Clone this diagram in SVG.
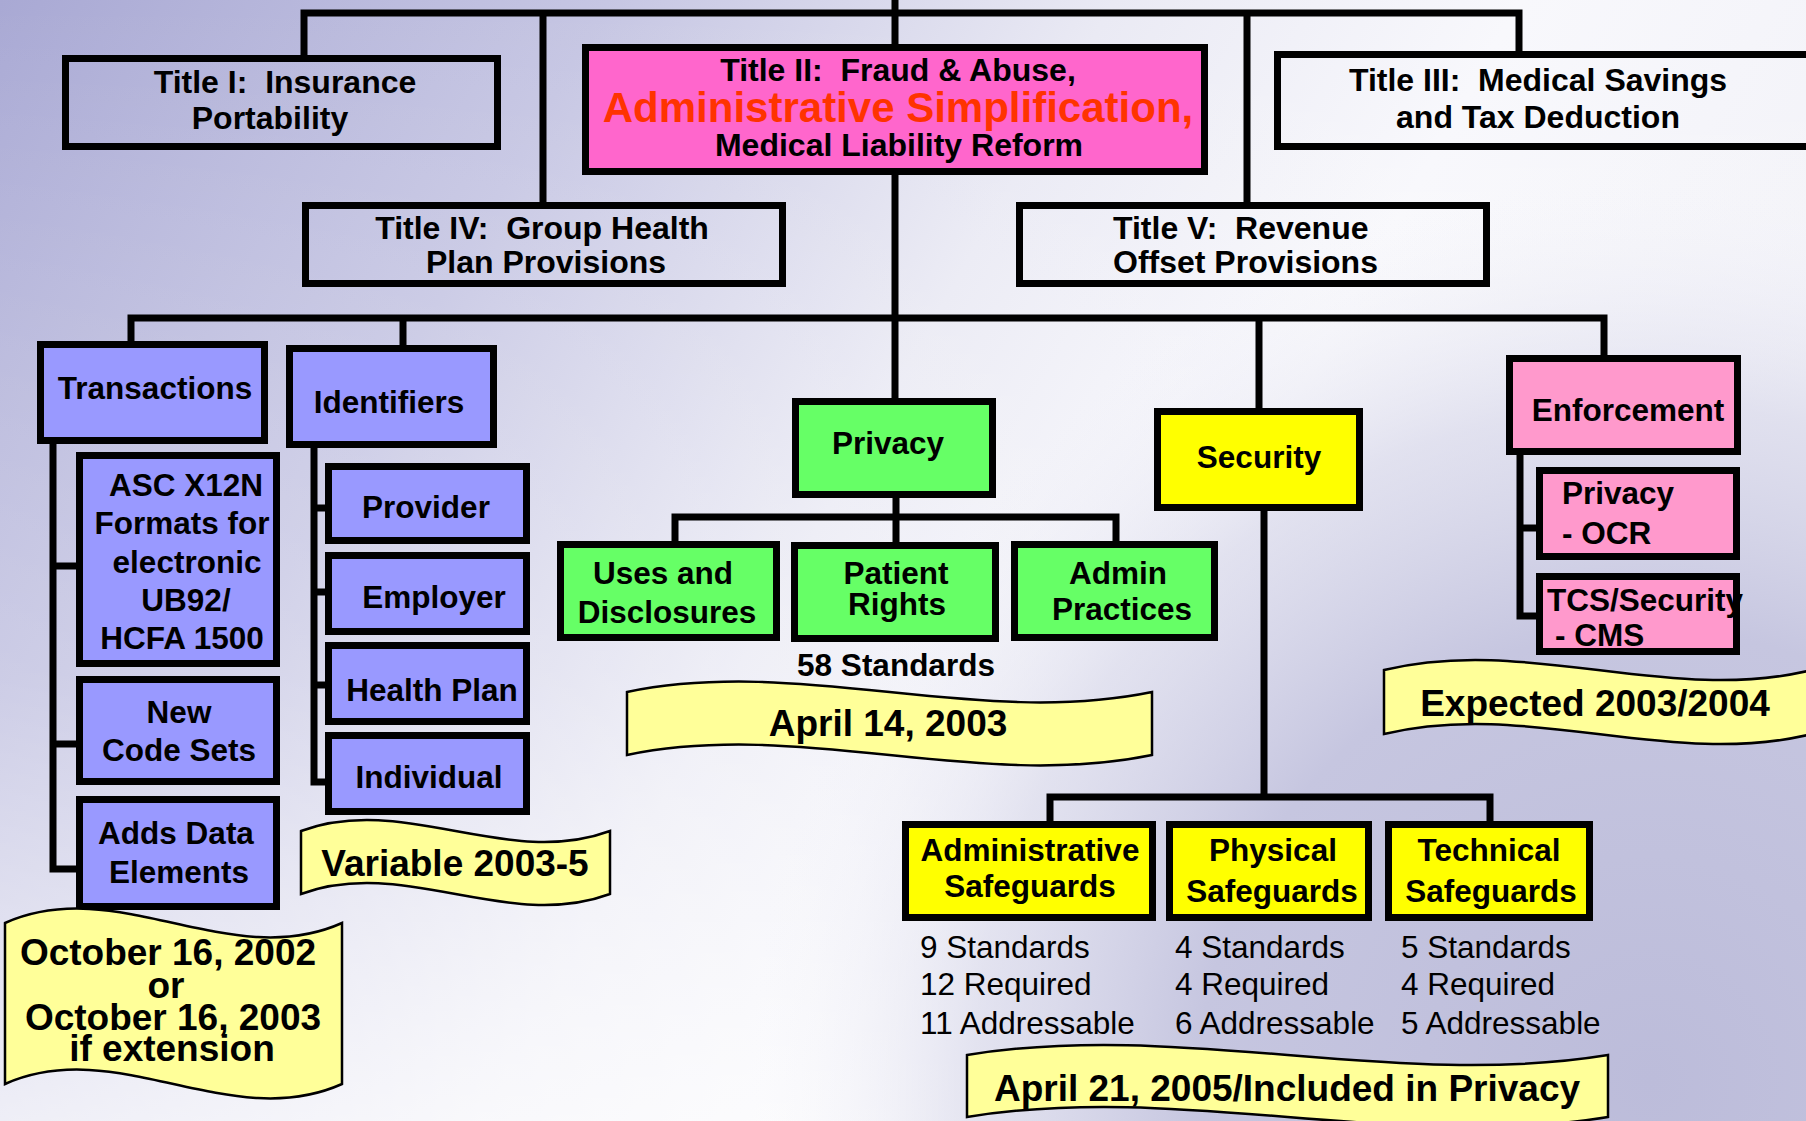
<svg xmlns="http://www.w3.org/2000/svg" width="1806" height="1121" viewBox="0 0 1806 1121">
<defs>
<style>
.box{stroke:#000;stroke-width:7}
.none{fill:none}
.blue{fill:#9999ff}
.green{fill:#66ff66}
.yellow{fill:#ffff00}
.pink{fill:#ff99cc}
.mag{fill:#ff66cc}
.ban{fill:#ffff99;stroke:#000;stroke-width:2.5}
.wire{fill:none;stroke:#000;stroke-width:7;stroke-linecap:square;stroke-linejoin:miter}
text{font-family:"Liberation Sans",Arial,sans-serif;font-weight:bold;font-size:31.5px;fill:#000;text-anchor:middle;dominant-baseline:central}
.ttl{font-size:32px}
.red{font-size:42px;fill:#ff3300}
.st{text-anchor:start}
.reg{font-weight:normal}
.bt{font-size:37px}
</style>
<linearGradient id="bgL" x1="0" y1="0" x2="1" y2="0.35">
<stop offset="0" stop-color="#a9a9d4"/>
<stop offset="0.3" stop-color="#c6c6e3"/>
<stop offset="0.55" stop-color="#eaeaf4"/>
<stop offset="0.75" stop-color="#f8f8fc"/>
<stop offset="1" stop-color="#f2f2f8"/>
</linearGradient>
<linearGradient id="bgV" x1="0" y1="0" x2="0" y2="1">
<stop offset="0" stop-color="#ffffff" stop-opacity="0"/>
<stop offset="0.6" stop-color="#ffffff" stop-opacity="0.25"/>
<stop offset="1" stop-color="#ffffff" stop-opacity="0.7"/>
</linearGradient>
<radialGradient id="glob" gradientUnits="userSpaceOnUse" cx="1650" cy="1080" r="900">
<stop offset="0" stop-color="#bcbcda"/>
<stop offset="0.5" stop-color="#c6c6e0"/>
<stop offset="0.75" stop-color="#d8d8ea" stop-opacity="0.7"/>
<stop offset="1" stop-color="#f4f4fa" stop-opacity="0"/>
</radialGradient>
</defs>
<rect width="1806" height="1121" fill="url(#bgL)"/>
<rect width="1806" height="1121" fill="url(#bgV)"/>
<rect width="1806" height="1121" fill="url(#glob)"/>

<g id="connectors">
<path class="wire" d="M304 13 H1519 M304 13 V58 M543 13 V205 M1247 13 V205 M1519 13 V54 M895 0 V47 M895 175 V401"/>
<path class="wire" d="M131 318 H1604 M131 318 V344 M403 318 V348 M1259 318 V411 M1604 318 V358"/>
<path class="wire" d="M53 444 V869 H79 M53 566 H79 M53 744 H79"/>
<path class="wire" d="M314 448 V782 H328 M314 508 H328 M314 592 H328 M314 685 H328"/>
<path class="wire" d="M896 498 V544 M675 517 H1116 M675 517 V544 M1116 517 V544"/>
<path class="wire" d="M1264 511 V797 M1050 797 H1490 M1050 797 V824 M1490 797 V824"/>
<path class="wire" d="M1520 455 V616 H1539 M1520 528 H1539"/>
</g>

<g id="title1"><rect class="box none" x="65.5" y="58.5" width="432" height="88"/>
<text class="ttl" x="285" y="82" xml:space="preserve">Title I:  Insurance</text>
<text class="ttl" x="270" y="118">Portability</text></g>

<g id="title2"><rect class="box mag" x="585.5" y="47.5" width="619" height="124"/>
<text class="ttl" x="898" y="70" xml:space="preserve">Title II:  Fraud &amp; Abuse,</text>
<text class="red" x="898" y="107">Administrative Simplification,</text>
<text class="ttl" x="899" y="145">Medical Liability Reform</text></g>

<g id="title3"><rect class="box none" x="1277.5" y="54.5" width="535" height="92"/>
<text class="ttl" x="1538" y="80" xml:space="preserve">Title III:  Medical Savings</text>
<text class="ttl" x="1538" y="117">and Tax Deduction</text></g>

<g id="title4"><rect class="box none" x="305.5" y="205.5" width="477" height="78"/>
<text class="ttl" x="542" y="228" xml:space="preserve">Title IV:  Group Health</text>
<text class="ttl" x="546" y="262">Plan Provisions</text></g>

<g id="title5"><rect class="box none" x="1019.5" y="205.5" width="467" height="78"/>
<text class="ttl st" x="1113" y="228" xml:space="preserve">Title V:  Revenue</text>
<text class="ttl st" x="1113" y="262">Offset Provisions</text></g>

<g id="transactions"><rect class="box blue" x="40.5" y="344.5" width="224" height="96"/>
<text x="155" y="388">Transactions</text></g>

<g id="identifiers"><rect class="box blue" x="289.5" y="348.5" width="204" height="96"/>
<text x="389" y="402">Identifiers</text></g>

<g id="asc"><rect class="box blue" x="79.5" y="455.5" width="197" height="208"/>
<text x="186" y="485">ASC X12N</text>
<text x="182" y="523">Formats for</text>
<text x="187" y="562">electronic</text>
<text x="186" y="600">UB92/</text>
<text x="182" y="638">HCFA 1500</text></g>

<g id="codesets"><rect class="box blue" x="79.5" y="679.5" width="197" height="102"/>
<text x="179" y="712">New</text>
<text x="179" y="750">Code Sets</text></g>

<g id="adds"><rect class="box blue" x="79.5" y="799.5" width="197" height="107"/>
<text x="176" y="833">Adds Data</text>
<text x="179" y="872">Elements</text></g>

<g id="provider"><rect class="box blue" x="328.5" y="466.5" width="198" height="74"/>
<text x="426" y="507">Provider</text></g>
<g id="employer"><rect class="box blue" x="328.5" y="555.5" width="198" height="76"/>
<text x="434" y="597">Employer</text></g>
<g id="healthplan"><rect class="box blue" x="328.5" y="645.5" width="198" height="76"/>
<text x="432" y="690">Health Plan</text></g>
<g id="individual"><rect class="box blue" x="328.5" y="735.5" width="198" height="76"/>
<text x="429" y="777">Individual</text></g>

<g id="privacy"><rect class="box green" x="795.5" y="401.5" width="197" height="93"/>
<text x="888" y="443">Privacy</text></g>
<g id="uses"><rect class="box green" x="560.5" y="544.5" width="216" height="93"/>
<text x="663" y="573">Uses and</text>
<text x="667" y="612">Disclosures</text></g>
<g id="patient"><rect class="box green" x="794.5" y="545.5" width="201" height="93"/>
<text x="896" y="573">Patient</text>
<text x="897" y="604">Rights</text></g>
<g id="adminpractices"><rect class="box green" x="1014.5" y="544.5" width="200" height="93"/>
<text x="1118" y="573">Admin</text>
<text x="1122" y="609">Practices</text></g>
<text x="896" y="665">58 Standards</text>

<g id="security"><rect class="box yellow" x="1157.5" y="411.5" width="202" height="96"/>
<text x="1259" y="457">Security</text></g>
<g id="adminsafe"><rect class="box yellow" x="905.5" y="824.5" width="247" height="93"/>
<text x="1030" y="850">Administrative</text>
<text x="1030" y="886">Safeguards</text></g>
<g id="physsafe"><rect class="box yellow" x="1169.5" y="824.5" width="199" height="93"/>
<text x="1273" y="850">Physical</text>
<text x="1272" y="891">Safeguards</text></g>
<g id="techsafe"><rect class="box yellow" x="1388.5" y="824.5" width="201" height="93"/>
<text x="1489" y="850">Technical</text>
<text x="1491" y="891">Safeguards</text></g>

<g id="stats">
<text class="st reg" x="920" y="947">9 Standards</text>
<text class="st reg" x="920" y="984">12 Required</text>
<text class="st reg" x="920" y="1023">11 Addressable</text>
<text class="st reg" x="1175" y="947">4 Standards</text>
<text class="st reg" x="1175" y="984">4 Required</text>
<text class="st reg" x="1175" y="1023">6 Addressable</text>
<text class="st reg" x="1401" y="947">5 Standards</text>
<text class="st reg" x="1401" y="984">4 Required</text>
<text class="st reg" x="1401" y="1023">5 Addressable</text>
</g>

<g id="enforcement"><rect class="box pink" x="1509.5" y="358.5" width="228" height="93"/>
<text x="1628" y="410">Enforcement</text></g>
<g id="ocr"><rect class="box pink" x="1539.5" y="470.5" width="197" height="86"/>
<text class="st" x="1562" y="493">Privacy</text>
<text class="st" x="1562" y="533">- OCR</text></g>
<g id="cms"><rect class="box pink" x="1539.5" y="576.5" width="197" height="75"/>
<text class="st" x="1547" y="600">TCS/Security</text>
<text class="st" x="1555" y="635">- CMS</text></g>

<g id="banner-april14"><path class="ban" d="M627,692 C802,656 977,728 1152,692 L1152,755 C977,791 802,719 627,755 Z"/>
<text class="bt" x="888" y="723">April 14, 2003</text></g>
<g id="banner-variable"><path class="ban" d="M301,831 C404,793 507,869 610,831 L610,894 C507,932 404,856 301,894 Z"/>
<text class="bt" x="455" y="863">Variable 2003-5</text></g>
<g id="banner-october"><path class="ban" d="M5,923 C117,873 230,973 342,923 L342,1084 C230,1134 117,1034 5,1084 Z"/>
<text class="bt" x="168" y="952">October 16, 2002</text>
<text class="bt" x="166" y="985">or</text>
<text class="bt" x="173" y="1017">October 16, 2003</text>
<text class="bt" x="172" y="1048">if extension</text></g>
<g id="banner-expected"><path class="ban" d="M1384,670 C1527,635 1669,705 1812,670 L1812,734 C1669,769 1527,699 1384,734 Z"/>
<text class="bt" x="1595" y="703">Expected 2003/2004</text></g>
<g id="banner-april21"><path class="ban" d="M967,1055 C1181,1020 1394,1090 1608,1055 L1608,1117 C1394,1152 1181,1082 967,1117 Z"/>
<text class="bt" x="1287" y="1088">April 21, 2005/Included in Privacy</text></g>
</svg>
